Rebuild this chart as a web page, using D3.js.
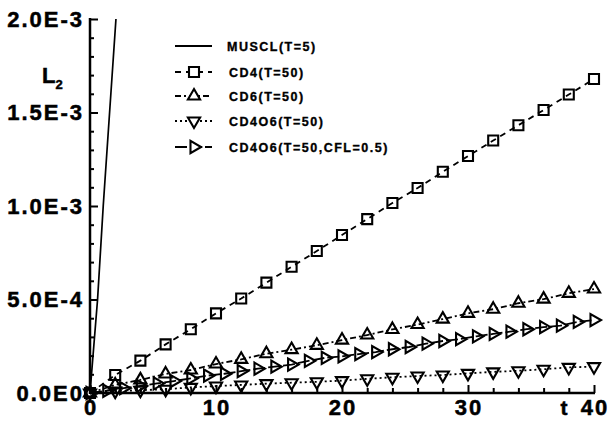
<!DOCTYPE html>
<html>
<head>
<meta charset="utf-8">
<script src="https://cdn.jsdelivr.net/npm/d3@7"></script>
<style>
body { margin: 0; background: #fff; }
text { font-family: "Liberation Sans", Arial, sans-serif; font-weight: bold; fill: #000; stroke: #000; stroke-width: 0.5px; }
</style>
</head>
<body>
<div id="chart"></div>
<script>
// tick values
var xMajor = [0, 10, 20, 30, 40];
var xMinor = [2, 4, 6, 8, 12, 14, 16, 18, 22, 24, 26, 28, 32, 34, 36, 38];
var yMajor = [0, 0.0005, 0.001, 0.0015, 0.002];
var yLabels = ["0.0E0", "5.0E-4", "1.0E-3", "1.5E-3", "2.0E-3"];
var yMinor = [0.0001, 0.0002, 0.0003, 0.0004, 0.0006, 0.0007, 0.0008, 0.0009,
	0.0011, 0.0012, 0.0013, 0.0014, 0.0016, 0.0017, 0.0018, 0.0019];

// MUSCL (T=5), only the part that is inside the frame
var tMuscl = [0, 0.6, 1.05, 2.06];
var lMuscl = [0, 0.00050, 0.00100, 0.00200];

// CD4, CD6, CD4O6 sampled every 2
var tEven = [0, 2, 4, 6, 8, 10, 12, 14, 16, 18, 20, 22, 24, 26, 28, 30, 32, 34, 36, 38, 40];
var lCD4 = [0, 0.000096, 0.000173, 0.000260, 0.000341, 0.000426, 0.000505, 0.000590, 0.000675,
	0.000759, 0.000845, 0.000930, 0.001016, 0.001096, 0.001183, 0.001267, 0.001350, 0.001432,
	0.001513, 0.001596, 0.001679];
var lCD6 = [0, 0.000043, 0.000070, 0.000102, 0.000123, 0.000155, 0.000180, 0.000210, 0.000232,
	0.000255, 0.000283, 0.000310, 0.000340, 0.000366, 0.000395, 0.000426, 0.000448, 0.000480,
	0.000502, 0.000533, 0.000556];
var lCD4O6 = [0, 0.000010, 0.000015, 0.000020, 0.000030, 0.000037, 0.000043, 0.000050, 0.000055,
	0.000060, 0.000066, 0.000076, 0.000084, 0.000091, 0.000096, 0.000105, 0.000113, 0.000119,
	0.000127, 0.000137, 0.000141];

// CD4O6 with CFL=0.5
var tCfl = [0, 1.33, 2.67, 4, 5.33, 6.67, 8, 9.33, 10.67, 12, 13.33, 14.67, 16, 17.33, 18.67, 20,
	21.33, 22.67, 24, 25.33, 26.67, 28, 29.33, 30.67, 32, 33.33, 34.67, 36, 37.33, 38.67, 40];
var lCfl = [0, 0.000012, 0.000026, 0.000038, 0.000051, 0.000064, 0.000078, 0.000093, 0.000103,
	0.000117, 0.000130, 0.000141, 0.000152, 0.000172, 0.000188, 0.000196, 0.000208, 0.000219,
	0.000234, 0.000246, 0.000264, 0.000278, 0.000288, 0.000303, 0.000316, 0.000328, 0.000341,
	0.000352, 0.000360, 0.000380, 0.000390];

var series = [
	{name: "MUSCL(T=5)", t: tMuscl, v: lMuscl, dash: null, marker: null},
	{name: "CD4(T=50)", t: tEven, v: lCD4, dash: "6,5", marker: "square"},
	{name: "CD6(T=50)", t: tEven, v: lCD6, dash: "6,3,2,3", marker: "up"},
	{name: "CD4O6(T=50)", t: tEven, v: lCD4O6, dash: "2,3", marker: "down"},
	{name: "CD4O6(T=50,CFL=0.5)", t: tCfl, v: lCfl, dash: "12,3", marker: "right"}
];

var width = 609, height = 421;
var x0 = 90, x1 = 594, y0 = 393, y1 = 19;

var x = d3.scaleLinear().domain([0, 40]).range([x0, x1]);
var y = d3.scaleLinear().domain([0, 0.002]).range([y0, y1]);

var svg = d3.select("#chart").append("svg")
	.attr("width", width)
	.attr("height", height);

svg.append("clipPath").attr("id", "plotclip")
	.append("rect")
	.attr("x", x0).attr("y", y1)
	.attr("width", x1 - x0 + 20).attr("height", y0 - y1);

function markerPath(kind) {
	if (kind == "square") return d3.symbol().type(d3.symbolSquare).size(100)();
	return d3.symbol().type(d3.symbolTriangle).size(64)();
}
function markerRotate(kind) {
	if (kind == "down") return 180;
	if (kind == "right") return 90;
	return 0;
}

var line = d3.line()
	.x(function(d) { return x(d[0]); })
	.y(function(d) { return y(d[1]); });

var plot = svg.append("g");

series.forEach(function(s) {
	var pts = s.t.map(function(t, i) { return [t, s.v[i]]; });
	var g = plot.append("g");
	g.append("path")
		.attr("d", line(pts))
		.attr("fill", "none")
		.attr("stroke", "#000")
		.attr("stroke-width", s.marker ? 1.8 : 1.7)
		.attr("stroke-dasharray", s.dash)
		.attr("clip-path", s.marker ? null : "url(#plotclip)");
	if (s.marker) {
		g.selectAll("path.mk")
			.data(pts)
			.enter()
			.append("path")
			.attr("class", "mk")
			.attr("d", markerPath(s.marker))
			.attr("transform", function(d) {
				return "translate(" + x(d[0]) + "," + y(d[1]) + ") rotate(" + markerRotate(s.marker) + ")";
			})
			.attr("fill", "none")
			.attr("stroke", "#000")
			.attr("stroke-width", 2.1);
	}
});

// axes
var yAxis = svg.append("g").attr("transform", "translate(" + x0 + ",0)");
yAxis.call(d3.axisRight(y).tickValues(yMajor).tickSize(8).tickFormat(""));
yAxis.append("g").call(d3.axisRight(y).tickValues(yMinor).tickSize(4).tickFormat(""));
yAxis.selectAll(".domain").remove();
yAxis.selectAll("line").attr("stroke", "#000").attr("stroke-width", 2);

var xAxis = svg.append("g").attr("transform", "translate(0," + y0 + ")");
xAxis.call(d3.axisTop(x).tickValues(xMajor).tickSize(8).tickFormat(""));
xAxis.append("g").call(d3.axisTop(x).tickValues(xMinor).tickSize(5).tickFormat(""));
xAxis.selectAll(".domain").remove();
xAxis.selectAll("line").attr("stroke", "#000").attr("stroke-width", 2);

svg.append("line")
	.attr("x1", x0).attr("x2", x0).attr("y1", y1 - 1).attr("y2", y0 + 1)
	.attr("stroke", "#000").attr("stroke-width", 2.5);
svg.append("line")
	.attr("x1", x0).attr("x2", x1 + 1).attr("y1", y0).attr("y2", y0)
	.attr("stroke", "#000").attr("stroke-width", 2.5);

// tick labels
svg.selectAll("text.ylab")
	.data(yMajor)
	.enter()
	.append("text")
	.attr("class", "ylab")
	.attr("x", 84)
	.attr("y", function(d) { return y(d); })
	.attr("dy", "0.36em")
	.attr("text-anchor", "end")
	.style("font-size", "22px")
	.style("letter-spacing", "2px")
	.text(function(d, i) { return yLabels[i]; });

svg.selectAll("text.xlab")
	.data(xMajor)
	.enter()
	.append("text")
	.attr("class", "xlab")
	.attr("x", function(d) { return x(d) + 1; })
	.attr("y", 415)
	.attr("text-anchor", "middle")
	.style("font-size", "22px")
	.style("letter-spacing", "2px")
	.text(function(d) { return d; });

// axis titles
var ylab = svg.append("text")
	.attr("x", 42)
	.attr("y", 83)
	.style("font-size", "22px");
ylab.append("tspan").text("L");
ylab.append("tspan").attr("dy", 6).style("font-size", "13px").text("2");

svg.append("text")
	.attr("x", 564)
	.attr("y", 415)
	.attr("text-anchor", "middle")
	.style("font-size", "21px")
	.text("t");

// legend
var legend = svg.append("g").attr("id", "legend");
var legY = [46, 72, 96, 121, 147];

series.forEach(function(s, i) {
	var g = legend.append("g").attr("transform", "translate(0," + legY[i] + ")");
	g.append("line")
		.attr("x1", 175).attr("x2", 212)
		.attr("stroke", "#000")
		.attr("stroke-width", 1.8)
		.attr("stroke-dasharray", s.dash);
	if (s.marker) {
		g.append("path")
			.attr("d", markerPath(s.marker))
			.attr("transform", "translate(194,0) rotate(" + markerRotate(s.marker) + ")")
			.attr("fill", "#fff")
			.attr("stroke", "#000")
			.attr("stroke-width", 2.1);
	}
	g.append("text")
		.attr("x", i == 0 ? 227 : 229)
		.attr("dy", "0.36em")
		.style("font-size", "12.5px")
		.style("letter-spacing", "1.5px")
		.style("stroke-width", "0.35px")
		.text(s.name);
});
</script>
</body>
</html>
